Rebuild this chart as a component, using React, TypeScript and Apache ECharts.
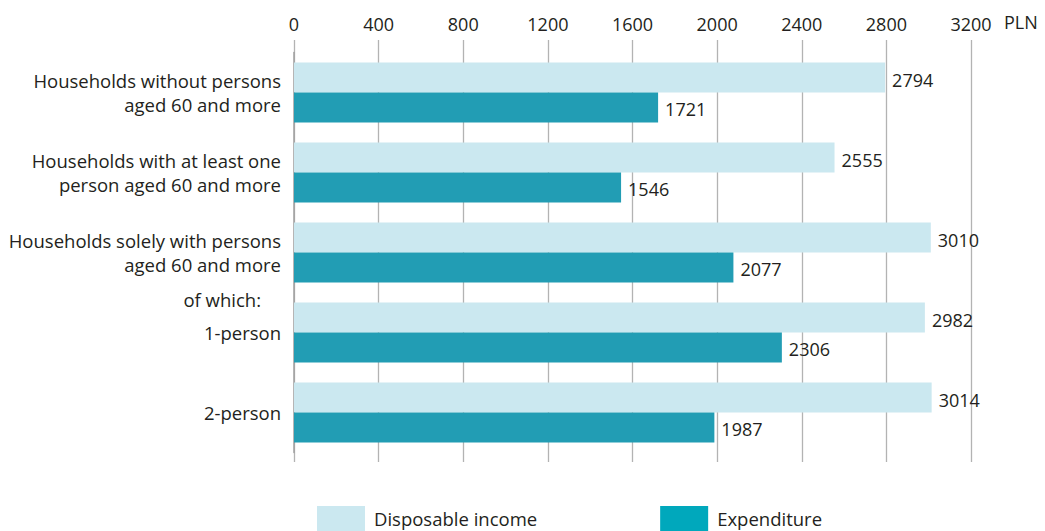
import React, { useEffect, useRef } from "react";
import * as echarts from "echarts";

const categories = [
  "Households without persons\naged 60 and more",
  "Households with at least one\nperson aged 60 and more",
  "Households solely with persons\naged 60 and more",
  "1-person",
  "2-person",
];
const disposableIncome = [2794, 2555, 3010, 2982, 3014];
const expenditure = [1721, 1546, 2077, 2306, 1987];
const seriesNames = ["Disposable income", "Expenditure"];
const axisMin = 0;
const axisMax = 3200;
const axisInterval = 400;

const FONT = "'Open Sans', sans-serif";
const TEXT = "#231f20";

export default function App() {
  const ref = useRef<HTMLDivElement>(null);
  useEffect(() => {
    if (!ref.current) return;
    const chart = echarts.init(ref.current, undefined, { renderer: "svg" });
    const left = 294;
    const right = 74;
    chart.setOption({
      animation: false,
      backgroundColor: "#ffffff",
      textStyle: { fontFamily: FONT, color: TEXT },
      grid: [
        { left, right, top: 40, bottom: 69 },
        { left, right, top: 52.5, height: 400 },
      ],
      xAxis: [
        {
          gridIndex: 0,
          type: "value",
          position: "top",
          min: axisMin,
          max: axisMax,
          interval: axisInterval,
          axisLine: { show: false },
          axisTick: { show: false },
          axisLabel: {
            fontSize: 18,
            color: TEXT,
            margin: 7,
            fontFamily: FONT,
            formatter: (v: number) => String(v),
          },
          splitLine: { show: true, lineStyle: { color: "#b3b3b3", width: 1.3 } },
        },
        {
          gridIndex: 1,
          type: "value",
          min: axisMin,
          max: axisMax,
          interval: axisInterval,
          show: false,
          splitLine: { show: false },
        },
      ],
      yAxis: [
        {
          gridIndex: 0,
          type: "value",
          min: 0,
          max: 1,
          show: false,
          splitLine: { show: false },
        },
        {
          gridIndex: 1,
          type: "category",
          data: categories,
          inverse: true,
          axisLine: { show: true, lineStyle: { color: "#a0a0a0", width: 1.5 } },
          axisTick: { show: false },
          axisLabel: {
            fontSize: 18.5,
            color: TEXT,
            margin: 13,
            lineHeight: 24,
            fontFamily: FONT,
          },
        },
      ],
      legend: {
        left: 317,
        top: 506,
        padding: 0,
        itemWidth: 48,
        itemHeight: 25,
        itemGap: 123,
        icon: "rect",
        textStyle: { fontSize: 18.5, color: TEXT, fontFamily: FONT, padding: [0, 0, 0, 4] },
        data: seriesNames,
      },
      graphic: [
        {
          type: "text",
          left: 1004,
          top: 13,
          style: { text: "PLN", fontSize: 18, fill: TEXT, fontFamily: FONT },
        },
        {
          type: "text",
          right: 1045 - 261,
          top: 290,
          style: { text: "of which:", fontSize: 18.5, fill: TEXT, fontFamily: FONT },
        },
      ],
      series: [
        {
          name: seriesNames[0],
          type: "bar",
          xAxisIndex: 1,
          yAxisIndex: 1,
          data: disposableIncome,
          barWidth: 30,
          barGap: "0%",
          itemStyle: { color: "#cbe8f0" },
          label: {
            show: true,
            position: "right",
            distance: 7,
            fontSize: 18,
            color: TEXT,
            fontFamily: FONT,
            offset: [0, 2],
          },
        },
        {
          name: seriesNames[1],
          type: "bar",
          xAxisIndex: 1,
          yAxisIndex: 1,
          data: expenditure.map((v) => ({ value: v, itemStyle: { color: "#229db4" } })),
          barWidth: 30,
          barGap: "0%",
          itemStyle: { color: "#00a8bc" },
          label: {
            show: true,
            position: "right",
            distance: 7,
            fontSize: 18,
            color: TEXT,
            fontFamily: FONT,
            offset: [0, 1],
          },
        },
      ],
    });
    return () => chart.dispose();
  }, []);
  return (
    <div
      ref={ref}
      style={{ position: "fixed", left: 0, top: 0, width: 1045, height: 531 }}
    />
  );
}
